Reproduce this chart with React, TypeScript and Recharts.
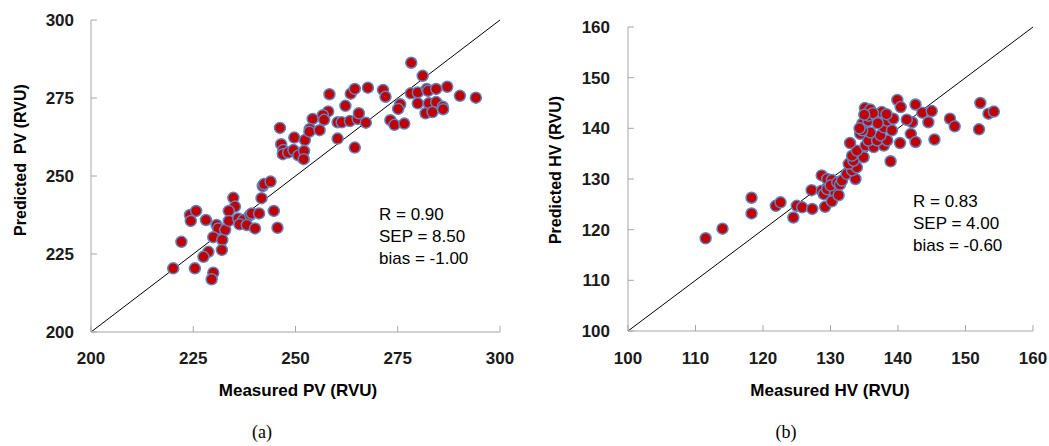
import React from "react";
import { ScatterChart, Scatter, XAxis, YAxis, ReferenceLine } from "recharts";

// (a) PV: measured vs predicted
const measuredPV = [
  246.2, 254.2, 253.5, 249.7, 252.3, 246.5, 247.0, 246.9, 248.2, 249.5,
  250.7, 252.1, 252.0, 242.0, 242.3, 243.9, 234.8, 241.7, 278.3, 281.1,
  258.3, 263.5, 264.5, 267.7, 271.4, 272.0, 262.2, 258.0, 256.7, 257.0,
  253.4, 255.9, 260.3, 261.3, 263.3, 265.2, 265.5, 267.2, 260.3, 264.5,
  273.2, 274.2, 276.6, 275.6, 275.1, 278.2, 279.9, 282.1, 282.4, 284.4,
  287.1, 290.2, 294.1, 279.9, 282.6, 284.4, 281.8, 283.5, 286.0, 286.1,
  235.2, 233.7, 224.2, 225.7, 224.4, 228.1, 230.7, 231.1, 232.8, 233.7,
  236.0, 237.2, 238.9, 239.3, 241.1, 236.3, 238.1, 240.1, 244.7, 245.6,
  222.1, 229.9, 232.1, 228.7, 227.5, 232.0, 220.1, 225.4, 229.9, 229.5,
];
const predictedPV = [
  265.4, 268.3, 265.1, 262.3, 261.5, 260.2, 258.3, 257.0, 257.5, 258.3,
  256.6, 258.0, 255.4, 246.8, 247.4, 248.2, 243.0, 242.9, 286.3, 282.1,
  276.2, 276.4, 277.9, 278.3, 277.6, 275.4, 272.5, 270.7, 269.5, 268.0,
  264.2, 264.7, 267.2, 267.2, 267.6, 268.3, 270.1, 267.1, 262.0, 259.1,
  267.9, 266.4, 266.8, 273.0, 271.5, 276.5, 276.8, 277.9, 277.3, 277.9,
  278.6, 275.7, 275.1, 273.3, 273.3, 273.7, 270.1, 270.5, 272.2, 271.4,
  240.2, 238.8, 237.5, 238.8, 235.6, 235.9, 234.3, 233.2, 232.7, 235.6,
  236.4, 235.9, 237.5, 238.0, 238.0, 234.5, 234.3, 233.2, 238.8, 233.4,
  228.9, 230.4, 229.5, 225.7, 224.1, 226.3, 220.4, 220.4, 219.0, 216.9,
];

// (b) HV: measured vs predicted
const measuredHV = [
  111.5, 114.0, 118.3, 118.3, 121.9, 122.6, 125.0, 124.5, 125.8, 127.3,
  129.2, 127.2, 128.7, 129.0, 129.5, 130.7, 130.2, 131.2, 128.7, 129.5,
  130.2, 130.0, 131.0, 131.4, 131.7, 132.4, 133.7, 133.2, 133.9, 132.7,
  133.4, 134.9, 133.2, 133.9, 132.9, 135.2, 136.4, 137.9, 135.6, 136.9,
  138.4, 137.4, 134.4, 135.9, 134.7, 134.7, 135.6, 137.9, 139.1, 138.4,
  136.9, 135.6, 139.3, 135.1, 135.9, 137.6, 139.9, 140.4, 142.6, 143.6,
  145.0, 152.2, 153.4, 154.2, 147.7, 148.4, 152.0, 145.4, 144.5, 142.1,
  141.3, 141.9, 142.6, 140.3, 138.9, 134.3, 136.3, 135.0, 137.0, 138.3,
];
const predictedHV = [
  118.3, 120.2, 126.3, 123.2, 124.7, 125.4, 124.7, 122.4, 124.4, 124.1,
  124.5, 127.8, 127.7, 127.0, 128.0, 127.4, 125.6, 126.8, 130.7, 130.0,
  129.8, 128.7, 129.3, 128.9, 129.7, 131.0, 130.0, 131.7, 132.3, 133.0,
  133.6, 134.3, 134.6, 135.6, 137.1, 136.6, 136.3, 136.6, 137.6, 137.6,
  137.6, 138.6, 138.9, 139.2, 139.6, 140.9, 141.5, 140.2, 139.6, 141.5,
  142.3, 142.5, 141.9, 144.0, 143.7, 143.2, 145.6, 144.2, 144.7, 143.1,
  143.4, 145.0, 142.9, 143.3, 141.9, 140.4, 139.8, 137.8, 141.2, 141.2,
  141.7, 138.9, 137.3, 137.1, 133.5, 140.0, 143.0, 142.7, 141.0, 142.8,
];

const pvTicks = [200, 225, 250, 275, 300];
const hvTicks = [100, 110, 120, 130, 140, 150, 160];
const pvStats = ["R = 0.90", "SEP = 8.50", "bias = -1.00"];
const hvStats = ["R = 0.83", "SEP = 4.00", "bias = -0.60"];

const sans = "'Liberation Sans', Arial, sans-serif";
const serif = "'Liberation Serif', 'DejaVu Serif', serif";

const Dot = (props: any) => (
  <circle cx={props.cx} cy={props.cy} r={5.5} fill="#c00000" stroke="#5b86c5" strokeWidth={1.5} />
);

function Panel(props: any) {
  const { left, width, margin, xs, ys, ticks, tickMarginX, tickMarginY } = props;
  const data = xs.map((x: number, i: number) => ({ x, y: ys[i] }));
  const lo = ticks[0];
  const hi = ticks[ticks.length - 1];
  const tickStyle = { fill: "#1a1a1a", fontSize: 17, fontWeight: 700, fontFamily: sans };
  return (
    <div style={{ position: "absolute", left, top: 0 }}>
      <ScatterChart width={width} height={400} margin={margin}>
        <XAxis
          type="number"
          dataKey="x"
          domain={[lo, hi]}
          ticks={ticks}
          interval={0}
          allowDataOverflow
          height={30}
          tickSize={-6}
          tickMargin={tickMarginX}
          stroke="#a6a6a6"
          tick={tickStyle}
        />
        <YAxis
          type="number"
          dataKey="y"
          domain={[lo, hi]}
          ticks={ticks}
          interval={0}
          allowDataOverflow
          width={50}
          tickSize={-6}
          tickMargin={tickMarginY}
          stroke="#a6a6a6"
          tick={tickStyle}
        />
        <ReferenceLine
          segment={[{ x: lo, y: lo }, { x: hi, y: hi }]}
          stroke="#000"
          strokeWidth={1}
        />
        <Scatter data={data} shape={Dot} isAnimationActive={false} />
      </ScatterChart>
    </div>
  );
}

function Label(props: any) {
  const { x, y, text, rotate, size, bold, font, anchor } = props;
  return (
    <div
      style={{
        position: "absolute",
        left: x,
        top: y,
        transform: `translate(${anchor === "start" ? "0" : "-50%"}, -50%)${rotate ? " rotate(-90deg)" : ""}`,
        fontFamily: font || sans,
        fontSize: size,
        fontWeight: bold ? 700 : 400,
        whiteSpace: "pre",
        color: "#000",
        lineHeight: 1,
      }}
    >
      {text}
    </div>
  );
}

export default function App() {
  return (
    <div style={{ position: "absolute", left: 0, top: 0, width: 1049, height: 446, background: "#fff", overflow: "hidden" }}>
      <Panel
        left={0}
        width={520}
        margin={{ top: 20, right: 20, bottom: 38, left: 41 }}
        xs={measuredPV}
        ys={predictedPV}
        ticks={pvTicks}
        tickMarginX={26}
        tickMarginY={23}
      />
      <Panel
        left={540}
        width={509}
        margin={{ top: 27, right: 16, bottom: 39, left: 38 }}
        xs={measuredHV}
        ys={predictedHV}
        ticks={hvTicks}
        tickMarginX={27}
        tickMarginY={24}
      />

      <Label x={21} y={160} text="Predicted  PV (RVU)" rotate size={16} bold />
      <Label x={298} y={390} text="Measured PV (RVU)" size={17} bold />
      <Label x={262} y={432} text="(a)" size={18} font={serif} />
      {pvStats.map((s, i) => (
        <Label key={s} x={379} y={214 + i * 22} text={s} size={17} anchor="start" />
      ))}

      <Label x={556} y={170} text="Predicted HV (RVU)" rotate size={16} bold />
      <Label x={830} y={390} text="Measured HV (RVU)" size={17} bold />
      <Label x={786} y={432} text="(b)" size={18} font={serif} />
      {hvStats.map((s, i) => (
        <Label key={s} x={913} y={201 + i * 22} text={s} size={17} anchor="start" />
      ))}
    </div>
  );
}
